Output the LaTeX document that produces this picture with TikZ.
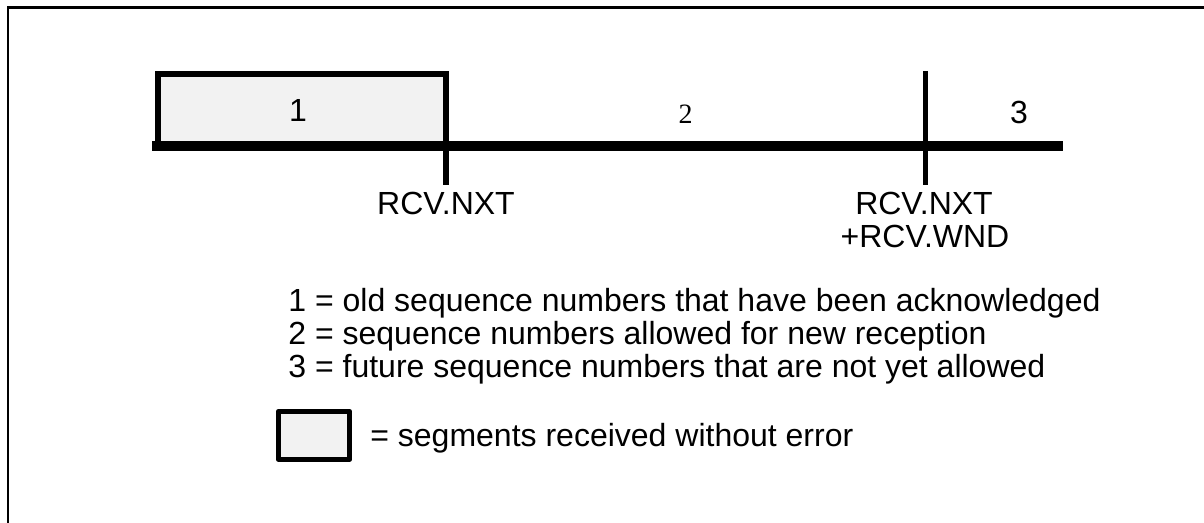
\documentclass[tikz,border=0pt]{standalone}
\usepackage{fontspec}
\setmainfont{Liberation Sans}
\newfontfamily\numserif{Liberation Serif}
\usetikzlibrary{positioning}
\definecolor{segfill}{HTML}{F2F2F2}

\tikzset{
  seqtext/.style={font=\fontsize{16}{16}\selectfont, inner sep=0pt},
  seqbar/.style={line width=5pt},
  edgeline/.style={line width=2.8pt},
  segbox/.style={fill=segfill, line width=2.6pt, line join=round},
}

\begin{document}
\begin{tikzpicture}[x=0.5pt,y=-0.5pt]
        \useasboundingbox (0,0) rectangle (1204,523);
        % Marco
        \draw[line width=1.35pt] (8,540) -- (8,7.3) -- (1220,7.3);
        
        % Segmentos ya recibidos
        \fill[segfill] (158,74) rectangle (446,146);
        \draw[edgeline] (158,146) -- (158,74) -- (446,74) -- (446,185);
        
        % Eje de secuencia
        \draw[seqbar] (152,146.5) -- (1063,146.5);
        \draw[edgeline] (925.5,71) -- (925.5,185);
        
        % Zonas
        \node[seqtext, anchor=base] (zona1) at (298,121.7) {1};
        \node[seqtext, anchor=base, font=\numserif\fontsize{14}{14}\selectfont] (zona2) at (685.6,123.3) {2};
        \node[seqtext, anchor=base] (zona3) at (1019,123.3) {3};
        
        % Punteros
        \node[seqtext, anchor=base] (rcvnxt) at (446,215) {RCV.NXT};
        \node[seqtext, anchor=base] (wndnxt) at (924,215) {RCV.NXT};
        \node[seqtext, anchor=base] (wndend) at (925,247.3) {+RCV.WND};
        
        % Leyenda
        \node[seqtext, anchor=base west] (ley1) at (288,312) {1 = old sequence numbers that have been acknowledged};
        \node[seqtext, anchor=base west] (ley2) at (288,345) {2 = sequence numbers allowed for new reception};
        \node[seqtext, anchor=base west] (ley3) at (288,378) {3 = future sequence numbers that are not yet allowed};
        \draw[segbox] (278.2,411.5) rectangle (349.8,459.2);
        \node[seqtext, anchor=base west] (leybox) at (370,446.5) {= segments received without error};
    \end{tikzpicture}
\end{document}
